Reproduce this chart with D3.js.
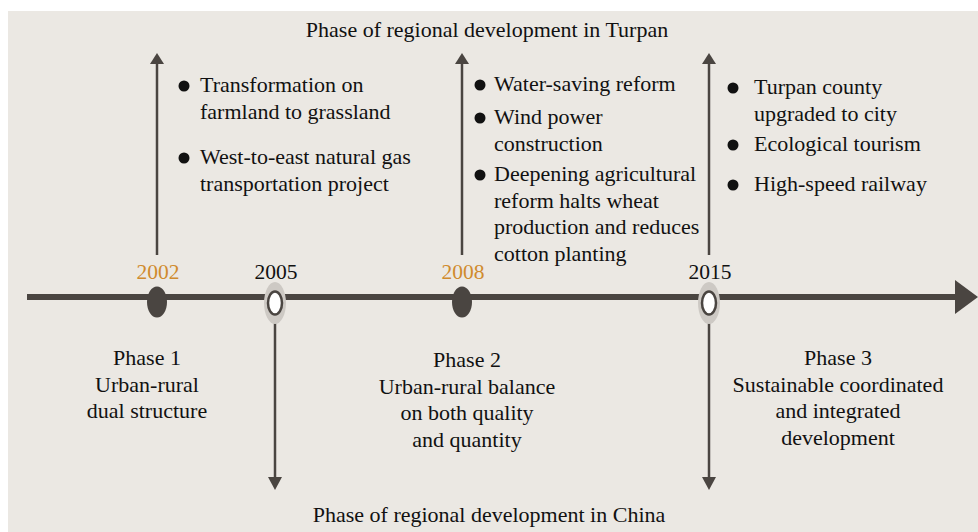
<!DOCTYPE html>
<html>
<head>
<meta charset="utf-8">
<script src="https://cdn.jsdelivr.net/npm/d3@7"></script>
<style>
  body { margin: 0; background: #fff; }
  text { font-family: "Liberation Serif", "DejaVu Serif", serif; fill: #111; }
</style>
</head>
<body>
<div id="chart"></div>
<script>
// timeline data
var years = [2002, 2005, 2008, 2015];
var yearX = [157, 275, 462, 709];
var yearColor = ["#d08b2e", "#111", "#d08b2e", "#111"];
var markerType = ["solid", "hollow", "solid", "hollow"];
var arrowUp = [true, false, true, true];
var arrowDown = [false, true, false, true];

var topTitle = "Phase of regional development in Turpan";
var bottomTitle = "Phase of regional development in China";

// bullet events above the line, keyed by year
var events2002 = [["Transformation on", "farmland to grassland"], ["West-to-east natural gas", "transportation project"]];
var events2008 = [["Water-saving reform"], ["Wind power", "construction"], ["Deepening agricultural", "reform halts wheat", "production and reduces", "cotton planting"]];
var events2015 = [["Turpan county", "upgraded to city"], ["Ecological tourism"], ["High-speed railway"]];

// phases below the line
var phase1 = ["Phase 1", "Urban-rural", "dual structure"];
var phase2 = ["Phase 2", "Urban-rural balance", "on both quality", "and quantity"];
var phase3 = ["Phase 3", "Sustainable coordinated", "and integrated", "development"];

var width = 978, height = 532;
var lineY = 297;
var dark = "#4a4541";
var fontSize = 22;
var lh = 26.5;

var x = d3.scaleLinear().domain(years).range(yearX);

var svg = d3.select("#chart").append("svg")
    .attr("width", width)
    .attr("height", height);

svg.append("rect")
    .attr("x", 8).attr("y", 11)
    .attr("width", width - 8).attr("height", height - 11)
    .attr("fill", "#ebe8e3");

// main axis line + arrow head
svg.append("line")
    .attr("x1", 27).attr("x2", 960)
    .attr("y1", lineY).attr("y2", lineY)
    .attr("stroke", dark).attr("stroke-width", 6);
svg.append("path")
    .attr("d", "M955," + (lineY - 17) + "L978," + lineY + "L955," + (lineY + 17) + "Z")
    .attr("fill", dark);

// vertical arrows
var up = svg.append("g").selectAll("g")
    .data(years.filter(function(d, i) { return arrowUp[i]; }))
    .enter()
    .append("g");
up.append("line")
    .attr("x1", function(d) { return x(d); })
    .attr("x2", function(d) { return x(d); })
    .attr("y1", 255).attr("y2", 62)
    .attr("stroke", dark).attr("stroke-width", 2.5);
up.append("path")
    .attr("d", function(d) {
        var cx = x(d);
        return "M" + (cx - 7) + ",64L" + cx + ",53L" + (cx + 7) + ",64Z";
    })
    .attr("fill", dark);

var down = svg.append("g").selectAll("g")
    .data(years.filter(function(d, i) { return arrowDown[i]; }))
    .enter()
    .append("g");
down.append("line")
    .attr("x1", function(d) { return x(d); })
    .attr("x2", function(d) { return x(d); })
    .attr("y1", 322).attr("y2", 478)
    .attr("stroke", dark).attr("stroke-width", 2.5);
down.append("path")
    .attr("d", function(d) {
        var cx = x(d);
        return "M" + (cx - 7) + ",477L" + cx + ",490L" + (cx + 7) + ",477Z";
    })
    .attr("fill", dark);

// markers
var markers = svg.append("g").selectAll("g")
    .data(years)
    .enter()
    .append("g")
    .attr("transform", function(d) { return "translate(" + x(d) + "," + (lineY + 6) + ")"; });

markers.filter(function(d, i) { return markerType[i] == "hollow"; })
    .append("ellipse")
    .attr("rx", 11).attr("ry", 21)
    .attr("fill", "#cdc9c4");
markers.filter(function(d, i) { return markerType[i] == "hollow"; })
    .append("ellipse")
    .attr("rx", 7).attr("ry", 11.5)
    .attr("fill", "#fff")
    .attr("stroke", dark).attr("stroke-width", 2.5);
markers.filter(function(d, i) { return markerType[i] == "solid"; })
    .append("ellipse")
    .attr("cy", -1)
    .attr("rx", 10).attr("ry", 15.5)
    .attr("fill", dark);

// year labels
svg.append("g").selectAll("text")
    .data(years)
    .enter()
    .append("text")
    .text(function(d) { return d; })
    .attr("x", function(d) { return x(d) + 1; })
    .attr("y", 279)
    .attr("text-anchor", "middle")
    .attr("font-size", 21.5)
    .style("fill", function(d, i) { return yearColor[i]; });

// titles
svg.append("text").text(topTitle)
    .attr("x", 487).attr("y", 37)
    .attr("text-anchor", "middle").attr("font-size", fontSize);
svg.append("text").text(bottomTitle)
    .attr("x", 489).attr("y", 522)
    .attr("text-anchor", "middle").attr("font-size", fontSize);

// bullet lists
function drawEvents(items, bx, tx, ys) {
    var g = svg.append("g");
    items.forEach(function(lines, i) {
        g.append("circle")
            .attr("cx", bx).attr("cy", ys[i] - 6)
            .attr("r", 5.5)
            .attr("fill", "#111");
        lines.forEach(function(s, j) {
            g.append("text").text(s)
                .attr("x", tx).attr("y", ys[i] + j * lh)
                .attr("font-size", fontSize);
        });
    });
}
drawEvents(events2002, x(2002) + 27, x(2002) + 43, [92, 164]);
drawEvents(events2008, x(2008) + 18, x(2008) + 32, [91, 124, 181]);
drawEvents(events2015, x(2015) + 24, x(2015) + 45, [94, 151, 191]);

// phase labels
function drawPhase(lines, cx, y0) {
    svg.append("g").selectAll("text")
        .data(lines)
        .enter()
        .append("text")
        .text(function(d) { return d; })
        .attr("x", cx)
        .attr("y", function(d, i) { return y0 + i * lh; })
        .attr("text-anchor", "middle")
        .attr("font-size", fontSize);
}
drawPhase(phase1, 147, 365);
drawPhase(phase2, 467, 367);
drawPhase(phase3, 838, 365);
</script>
</body>
</html>
